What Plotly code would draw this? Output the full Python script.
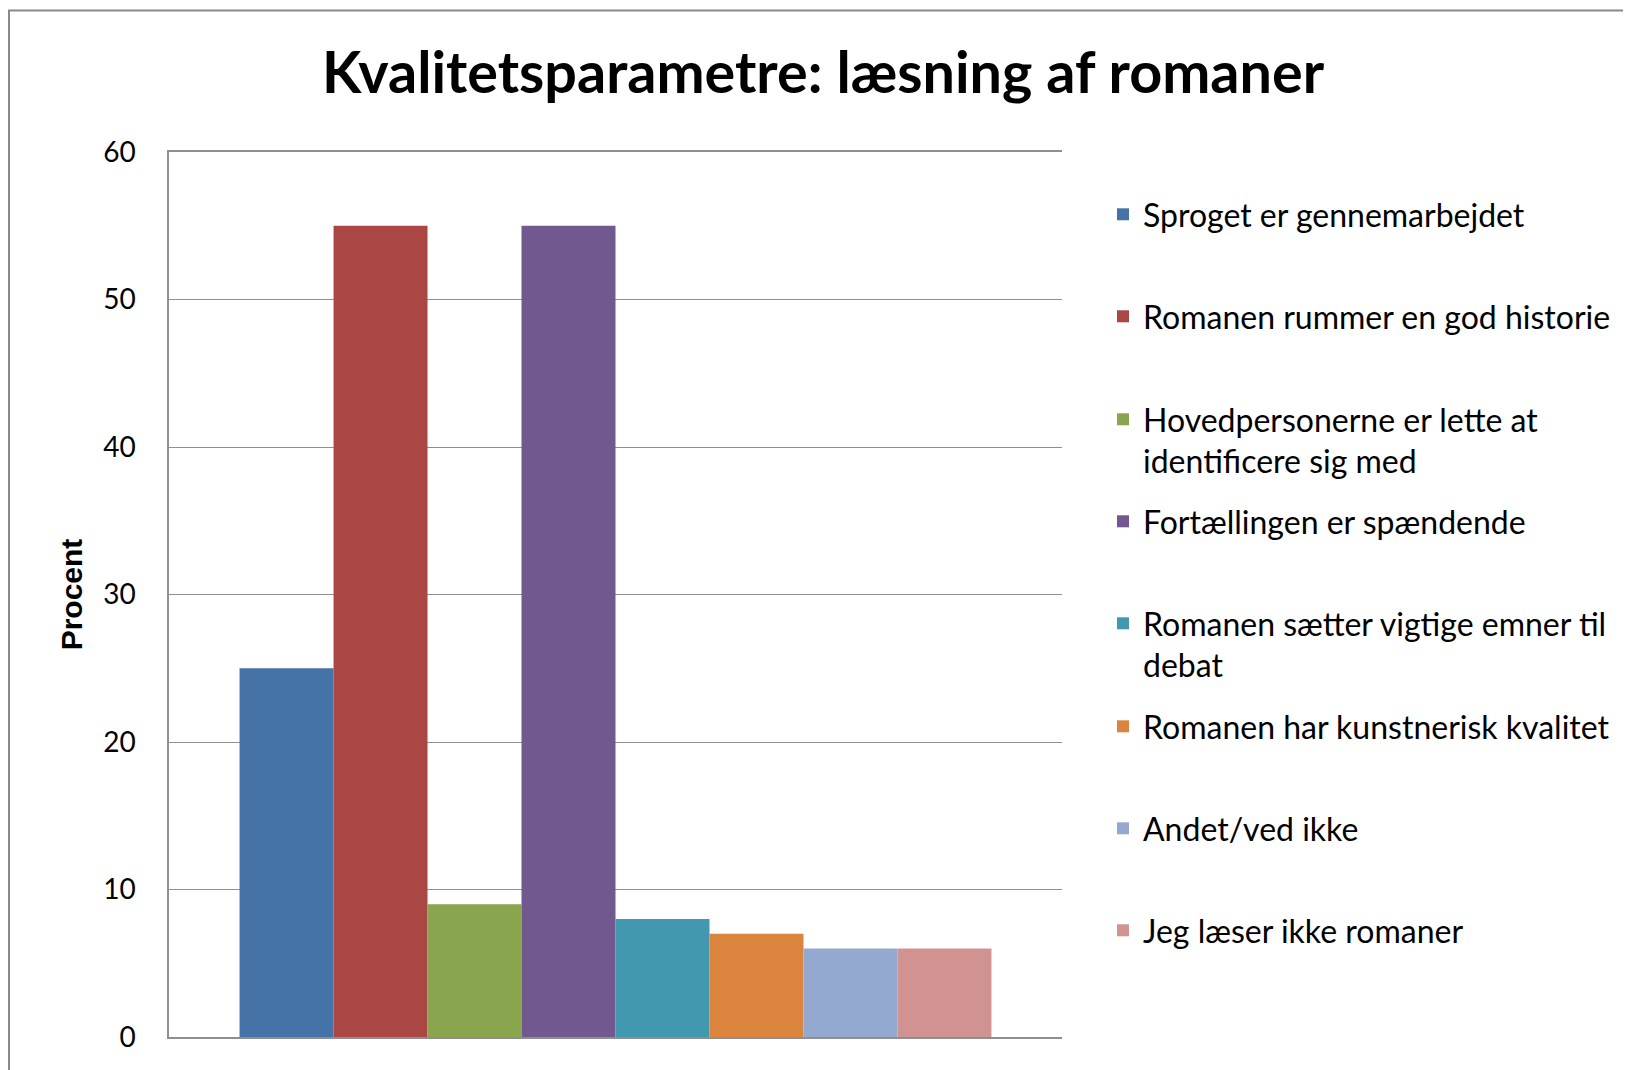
import plotly.graph_objects as go

# ---- data ----
categories = ["Kvalitetsparametre"]
series_names = [
    "Sproget er gennemarbejdet",
    "Romanen rummer en god historie",
    "Hovedpersonerne er lette at<br>identificere sig med",
    "Fortællingen er spændende",
    "Romanen sætter vigtige emner til<br>debat",
    "Romanen har kunstnerisk kvalitet",
    "Andet/ved ikke",
    "Jeg læser ikke romaner",
]
values = [25, 55, 9, 55, 8, 7, 6, 6]
colors = ["#4572A7", "#AA4643", "#89A54E", "#71588F",
          "#4198AF", "#DB843D", "#93A9CF", "#D19392"]
y_ticks = [0, 10, 20, 30, 40, 50, 60]

# ---- layout geometry (pixels, figure coordinates; page body has 8px margin) ----
W, H = 1623, 1062
L, R, T, B = 161, 1054, 144, 1029
PW, PH = R - L, B - T

def px_x(p):
    return (p - L) / PW

def px_y(p):
    return (B - p) / PH

FONT = "Lato, Calibri, Carlito, sans-serif"
GRID = "#8f8f8f"

fig = go.Figure()
for i, (name, v, c) in enumerate(zip(series_names, values, colors)):
    fig.add_trace(go.Bar(
        x=categories, y=[v], name=name,
        marker=dict(color=c, line=dict(width=0)),
        legend="legend" if i == 0 else f"legend{i+1}",
        hoverinfo="name+y",
    ))

# legend first-line centres (px) -> separate legends for even rhythm
legend_centres = [207, 309, 412, 514, 616, 719, 821, 923]
leg_font = dict(family=FONT, size=32, color="#000000")
legends = {}
for i, cy in enumerate(legend_centres):
    key = "legend" if i == 0 else f"legend{i+1}"
    legends[key] = dict(
        x=px_x(1095), y=px_y(cy - 28), xanchor="left", yanchor="top",
        font=leg_font, bgcolor="rgba(0,0,0,0)", borderwidth=0,
        valign="top", itemclick=False, itemdoubleclick=False,
    )

fig.update_layout(
    width=W, height=H,
    margin=dict(l=L, r=W - R, t=T, b=H - B, pad=0),
    paper_bgcolor="white", plot_bgcolor="white",
    barmode="group", bargap=0.158, bargroupgap=0,
    title=dict(
        text="Kvalitetsparametre: læsning af romaner",
        font=dict(family=FONT, size=57.5, color="#000000", weight=700),
        x=815 / W, xref="container", xanchor="center",
        y=1 - 65 / H, yref="container", yanchor="middle",
    ),
    xaxis=dict(
        showticklabels=False, showgrid=False, zeroline=False,
        showline=True, mirror=True, linecolor=GRID, linewidth=1.5, ticks="",
        range=[-0.5, 0.5],
    ),
    yaxis=dict(
        range=[0, 60], tickvals=y_ticks, ticks="",
        showgrid=True, gridcolor=GRID, gridwidth=1.3,
        zeroline=False, showline=True, linecolor=GRID, linewidth=1.5,
        tickfont=dict(family=FONT, size=28, color="#000000"),
        ticklabelstandoff=26,
        title=dict(text="Procent", standoff=12,
                   font=dict(family="Liberation Sans, Arial, sans-serif",
                             size=30, color="#000000", weight=700)),
    ),
    showlegend=True,
    **legends,
)

# outer chart frame (left and top edges visible)
fig.add_shape(
    type="rect", xref="paper", yref="paper",
    x0=px_x(1), x1=px_x(W + 20), y0=px_y(H + 20), y1=px_y(2.5),
    line=dict(color="#8a8a8a", width=2), fillcolor="rgba(0,0,0,0)",
    layer="below",
)

fig.write_html("out.html")
